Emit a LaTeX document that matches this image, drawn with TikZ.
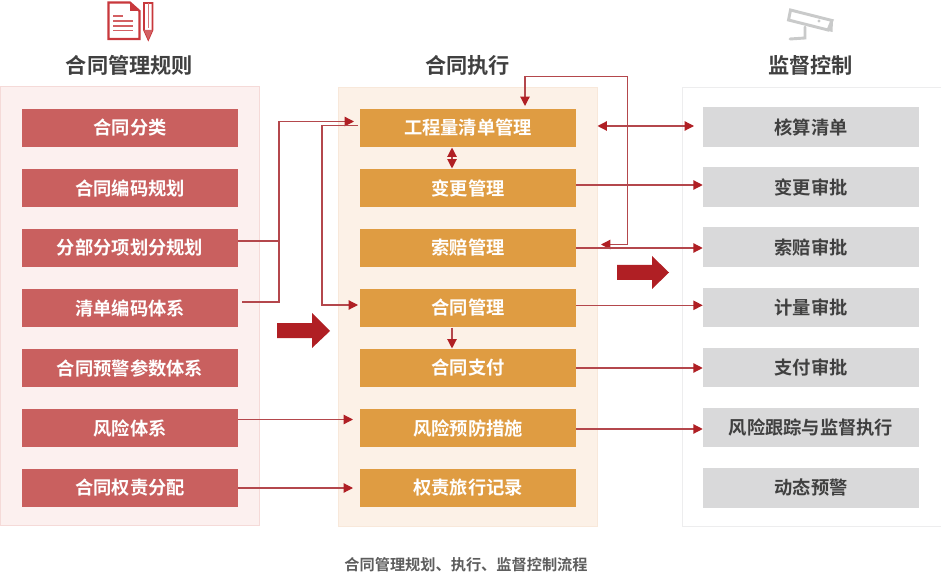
\documentclass[tikz,border=0pt]{standalone}
\usepackage{fontspec}
\setmainfont{Noto Sans CJK SC}[BoldFont=* Bold]
\usetikzlibrary{arrows.meta}
\definecolor{redbox}{HTML}{C9605F}
\definecolor{orangebox}{HTML}{DF9C42}
\definecolor{graybox}{HTML}{D9D9DA}
\definecolor{pinkpanel}{HTML}{FCF0EF}
\definecolor{pinkedge}{HTML}{F5DAD8}
\definecolor{orangepanel}{HTML}{FCF1E7}
\definecolor{orangeedge}{HTML}{F8E8DA}
\definecolor{grayedge}{HTML}{EDEDEE}
\definecolor{linecol}{HTML}{B4474C}
\definecolor{tipcol}{HTML}{B01F24}
\definecolor{titlecol}{HTML}{404040}
\definecolor{iconred}{HTML}{C8383C}
\definecolor{icongray}{HTML}{C9CACA}
\newcommand{\lbl}[1]{\raisebox{-0.7pt}{#1}}
\tikzset{
 panel/.style={draw,line width=0.6pt,minimum width=194.25pt,anchor=north west,inner sep=0pt},
 basebox/.style={minimum width=162pt,minimum height=28.9pt,inner sep=0pt,font=\fontsize{13.7}{14}\selectfont\bfseries},
 redb/.style={basebox,fill=redbox,text=white},
 orangeb/.style={basebox,fill=orangebox,text=white},
 grayb/.style={basebox,fill=graybox,text=titlecol,minimum height=29.5pt},
 coltitle/.style={font=\fontsize{15.9}{16}\selectfont\bfseries,text=titlecol},
 conn/.style={draw=linecol,line width=0.9pt},
 arr/.style={conn,-{Triangle[length=7pt,width=7pt,color=tipcol]}},
 darr/.style={conn,{Triangle[length=7pt,width=7pt,color=tipcol]}-{Triangle[length=7pt,width=7pt,color=tipcol]}},
 bigarrow/.style={fill=tipcol,draw=none},
}
\begin{document}
\begin{tikzpicture}[x=0.75pt,y=-0.75pt]
\useasboundingbox (0,0) rectangle (941,573);
% panels
\node[panel,fill=pinkpanel,draw=pinkedge,minimum height=329pt] (pl) at (0,86) {};
\node[panel,fill=orangepanel,draw=orangeedge,minimum height=329pt] (pm) at (338,87) {};
\node[panel,fill=white,draw=grayedge,minimum height=329pt] (pr) at (682,87) {};
% titles
\node[coltitle] (t1) at (129.5,65.5) {\lbl{合同管理规则}};
\node[coltitle] (t2) at (467.5,65.5) {\lbl{合同执行}};
\node[coltitle] (t3) at (810.5,65.5) {\lbl{监督控制}};
\node[font=\fontsize{11.4}{12}\selectfont\bfseries,text=titlecol!85] (cap) at (466,565) {合同管理规划、执行、监督控制流程};
% left
\node[redb] (a1) at (130,128) {\lbl{合同分类}};
\node[redb] (a2) at (130,188) {\lbl{合同编码规划}};
\node[redb] (a3) at (130,248) {\lbl{分部分项划分规划}};
\node[redb] (a4) at (130,308) {\lbl{清单编码体系}};
\node[redb] (a5) at (130,368) {\lbl{合同预警参数体系}};
\node[redb] (a6) at (130,428) {\lbl{风险体系}};
\node[redb] (a7) at (130,488) {\lbl{合同权责分配}};
% middle
\node[orangeb] (b1) at (468,128) {\lbl{工程量清单管理}};
\node[orangeb] (b2) at (468,188) {\lbl{变更管理}};
\node[orangeb] (b3) at (468,248) {\lbl{索赔管理}};
\node[orangeb] (b4) at (468,308) {\lbl{合同管理}};
\node[orangeb] (b5) at (468,368) {\lbl{合同支付}};
\node[orangeb] (b6) at (468,428) {\lbl{风险预防措施}};
\node[orangeb] (b7) at (468,488) {\lbl{权责旅行记录}};
% right
\node[grayb] (c1) at (811,127) {\lbl{核算清单}};
\node[grayb] (c2) at (811,187) {\lbl{变更审批}};
\node[grayb] (c3) at (811,247) {\lbl{索赔审批}};
\node[grayb] (c4) at (811,307.5) {\lbl{计量审批}};
\node[grayb] (c5) at (811,367.5) {\lbl{支付审批}};
\node[grayb] (c6) at (811,427.5) {\lbl{风险跟踪与监督执行}};
\node[grayb] (c7) at (811,488) {\lbl{动态预警}};
% free ends
\coordinate (j) at (279,241);
\coordinate (a4s) at (242,302);
\coordinate (b1in) at (354,121.5);
\coordinate (b1out) at (358,125.5);
\coordinate (b4in) at (358,305);
\coordinate (lp) at (322,125.5);
\coordinate (lpb) at (322,305);
\coordinate (top) at (525,76.5);
\coordinate (topr) at (627.5,76.5);
\coordinate (b1top) at (525,106);
\coordinate (b3ret) at (601,244.5);
\coordinate (b1r) at (597.5,126);
\coordinate (c1l) at (694,126);
\coordinate (m12) at (452,128);
% connectors
\draw[conn] (a3.east |- j) -- (j);
\draw[arr] (a4s) -- (a4s -| j) -- (j) -- (j |- b1in) -- (b1in);
\draw[arr] (b1out) -- (lp) -- (lpb) -- (b4in);
\draw[arr] (b3ret -| topr) -- (topr) -- (top) -- (b1top);
\draw[arr] (topr |- b3ret) -- (b3ret);
\draw[darr] (b1.south -| m12) -- (b2.north -| m12);
\draw[arr] (b4.south -| m12) -- (b5.north -| m12);
\draw[darr] (b1r) -- (c1l);
\draw[arr] (b2.east |- 0,185) -- (c2.west |- 0,185);
\draw[arr] (b3.east) -- (c3.west |- b3.east);
\draw[arr] (b4.east |- 0,305.3) -- (c4.west |- 0,305.3);
\draw[arr] (b5.east) -- (c5.west |- b5.east);
\draw[arr] (b6.east |- 0,429) -- (c6.west |- 0,429);
\draw[arr] (a6.east |- 0,419.5) -- (353,419.5);
\draw[arr] (a7.east) -- (353,488);
% block arrows
\fill[bigarrow] (277,323) -- (312,323) -- (312,313) -- (330,331) -- (312,348) -- (312,338) -- (277,338) -- cycle;
\fill[bigarrow] (617,265) -- (652,265) -- (652,256) -- (669,272.5) -- (652,289) -- (652,280) -- (617,280) -- cycle;
% document icon
\draw[iconred,line width=1.6pt,fill=white] (108.5,2.5) -- (130,2.5) -- (139.5,11) -- (139.5,39) -- (108.5,39) -- cycle;
\fill[iconred] (130,2.5) -- (139.5,11) -- (130,11) -- cycle;
\draw[iconred!80,line width=0.8pt] (113,16) -- (123,16) (113,21) -- (133,21) (113,26) -- (133,26) (113,30.5) -- (133,30.5);
\draw[iconred,line width=1.3pt,fill=white] (144,3) -- (152.5,3) -- (152.5,30) -- (148.3,39.5) -- (144,30) -- cycle;
\draw[iconred!70,line width=0.8pt] (148.3,3) -- (148.3,28);
\fill[iconred!80] (144,30) -- (152.5,30) -- (148.3,39.5) -- cycle;
% camera icon
\draw[icongray,line width=2.2pt,fill=white] (790.5,10) -- (832,20.5) -- (828,30) -- (788.5,20) -- cycle;
\fill[icongray] (819,21) circle (1.6);
\fill[icongray] (828,31) -- (833,20) -- (832.5,32) -- cycle;
\draw[icongray,line width=2.2pt,line cap=round] (805,27) -- (805,38) -- (790,39);
\end{tikzpicture}
\end{document}
